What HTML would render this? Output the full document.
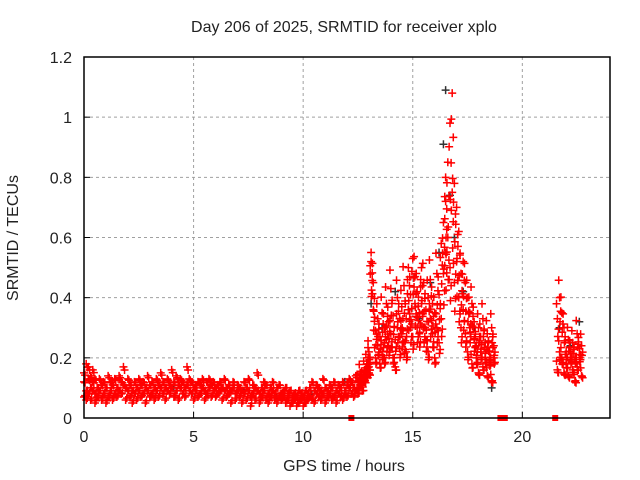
<!DOCTYPE html>
<html><head><meta charset="utf-8">
<style>
body{margin:0;background:#fff;}
svg{display:block;font-family:"Liberation Sans",sans-serif;}
</style></head>
<body>
<svg id="chart" width="640" height="480">
<rect width="640" height="480" fill="#fff"/>
<text x="344" y="32" text-anchor="middle" font-size="16" fill="#222">Day 206 of 2025, SRMTID for receiver xplo</text>
<text x="344" y="471" text-anchor="middle" font-size="16" fill="#222">GPS time / hours</text>
<text transform="translate(18,238) rotate(-90)" text-anchor="middle" font-size="16" fill="#222">SRMTID / TECUs</text>
<g id="grid"></g>
<g id="axes"></g>
<g id="dark"></g>
<g id="red"></g>
<rect x="84" y="57" width="526" height="361" fill="none" stroke="#000" stroke-width="1.5"/>
</svg>
<script>
const xTicks=[0,5,10,15,20];
const yTicks=[0,0.2,0.4,0.6,0.8,1,1.2];
const yTickLabels=["0","0.2","0.4","0.6","0.8","1","1.2"];
const redX=[0,0,0,0.1,0.1,0.1,0.2,0.2,0.2,0.3,0.3,0.3,0.4,0.4,0.4,0.5,0.5,0.5,0.6,0.6,0.7,0.7,0.8,0.8,0.9,0.9,1.0,1.0,1.1,1.1,1.2,1.2,1.3,1.3,1.4,1.4,1.5,1.5,1.6,1.6,1.7,1.7,1.8,1.8,1.9,1.9,2.0,2.0,2.1,2.1,2.2,2.2,2.3,2.3,2.4,2.4,2.5,2.5,2.6,2.6,2.7,2.7,2.8,2.8,2.9,2.9,3.0,3.0,3.1,3.1,3.2,3.2,3.3,3.3,3.4,3.4,3.5,3.5,3.6,3.6,3.7,3.7,3.8,3.8,3.9,3.9,4.0,4.0,4.1,4.1,4.2,4.2,4.3,4.3,4.4,4.4,4.5,4.5,4.6,4.6,4.7,4.7,4.8,4.8,4.9,4.9,5.0,5.0,5.1,5.1,5.2,5.2,5.3,5.3,5.4,5.4,5.5,5.5,5.6,5.6,5.7,5.7,5.8,5.8,5.9,5.9,6.0,6.0,6.1,6.1,6.2,6.2,6.3,6.3,6.4,6.4,6.5,6.5,6.6,6.6,6.7,6.7,6.8,6.8,6.9,6.9,7.0,7.0,7.1,7.1,7.2,7.2,7.3,7.3,7.4,7.4,7.5,7.5,7.6,7.6,7.7,7.7,7.8,7.8,7.9,7.9,8.0,8.0,8.1,8.1,8.2,8.2,8.3,8.3,8.4,8.4,8.5,8.5,8.6,8.6,8.7,8.7,8.8,8.8,8.9,8.9,9.0,9.0,9.1,9.1,9.2,9.2,9.3,9.3,9.4,9.4,9.5,9.5,9.6,9.6,9.7,9.7,9.8,9.8,9.9,9.9,10.0,10.0,10.1,10.1,10.2,10.2,10.3,10.3,10.4,10.4,10.5,10.5,10.6,10.6,10.7,10.7,10.8,10.8,10.9,10.9,11.0,11.0,11.1,11.1,11.2,11.2,11.3,11.3,11.4,11.4,11.5,11.5,11.6,11.6,11.7,11.7,11.8,11.8,11.9,11.9,12.0,12.0,12.1,12.1,12.2,12.2,12.3,12.3,12.4,12.4,12.5,12.5,12.6,12.6,12.7,12.7,12.8,12.8,12.9,12.9,13.0,13.0,13.0,13.0,13.1,13.1,13.2,13.2,13.3,13.3,13.4,13.4,13.5,13.5,13.6,13.6,13.7,13.7,13.8,13.8,13.9,13.9,14.0,14.0,14.1,14.1,14.2,14.2,14.3,14.3,14.4,14.4,14.5,14.5,14.6,14.6,14.7,14.7,14.8,14.8,14.9,14.9,15.0,15.0,15.1,15.1,15.2,15.2,15.3,15.3,15.4,15.4,15.5,15.5,15.6,15.6,15.7,15.7,15.8,15.8,15.9,15.9,16.0,16.0,16.1,16.1,16.2,16.2,16.3,16.3,16.4,16.4,16.5,16.5,16.5,16.6,16.6,16.7,16.7,16.8,16.8,16.9,16.9,17.0,17.0,17.1,17.1,17.2,17.2,17.3,17.3,17.4,17.4,17.5,17.5,17.6,17.6,17.7,17.7,17.8,17.8,17.9,17.9,18.0,18.0,18.1,18.1,18.2,18.2,18.3,18.3,18.4,18.4,18.5,18.5,18.6,18.6,18.7,18.7,21.6,21.6,21.7,21.7,21.8,21.8,21.9,21.9,22.0,22.0,22.1,22.1,22.2,22.2,22.3,22.3,22.4,22.4,22.5,22.5,22.6,22.6,22.7,22.7];
const redY=[0.07,0.12,0.15,0.09,0.18,0.06,0.13,0.08,0.17,0.1,0.14,0.06,0.12,0.09,0.16,0.08,0.13,0.05,0.1,0.07,0.09,0.13,0.06,0.11,0.08,0.12,0.1,0.05,0.14,0.07,0.09,0.12,0.11,0.06,0.08,0.13,0.1,0.07,0.09,0.14,0.12,0.08,0.17,0.11,0.06,0.1,0.09,0.13,0.07,0.11,0.05,0.09,0.08,0.12,0.1,0.06,0.09,0.13,0.07,0.11,0.12,0.08,0.05,0.1,0.09,0.14,0.11,0.07,0.08,0.12,0.1,0.06,0.13,0.09,0.07,0.11,0.1,0.15,0.08,0.12,0.06,0.1,0.09,0.13,0.11,0.08,0.16,0.1,0.12,0.07,0.09,0.14,0.11,0.06,0.1,0.13,0.08,0.12,0.1,0.07,0.17,0.11,0.09,0.13,0.08,0.12,0.1,0.06,0.11,0.09,0.12,0.07,0.08,0.11,0.1,0.13,0.09,0.06,0.12,0.08,0.1,0.13,0.07,0.11,0.09,0.12,0.1,0.07,0.08,0.11,0.12,0.09,0.06,0.1,0.09,0.13,0.07,0.1,0.11,0.08,0.05,0.09,0.1,0.12,0.08,0.06,0.11,0.09,0.07,0.1,0.09,0.05,0.12,0.08,0.06,0.1,0.09,0.13,0.07,0.04,0.11,0.08,0.06,0.1,0.09,0.15,0.05,0.08,0.1,0.07,0.12,0.09,0.06,0.11,0.08,0.05,0.1,0.07,0.09,0.12,0.06,0.08,0.1,0.05,0.07,0.11,0.08,0.06,0.09,0.07,0.05,0.1,0.06,0.08,0.09,0.04,0.07,0.05,0.08,0.06,0.04,0.07,0.09,0.05,0.06,0.08,0.07,0.04,0.05,0.09,0.08,0.06,0.1,0.07,0.06,0.12,0.09,0.05,0.08,0.11,0.07,0.1,0.06,0.09,0.13,0.08,0.05,0.1,0.09,0.07,0.11,0.08,0.06,0.1,0.12,0.07,0.09,0.05,0.08,0.11,0.1,0.07,0.06,0.12,0.09,0.08,0.11,0.07,0.13,0.1,0.08,0.12,0.1,0.07,0.09,0.14,0.12,0.08,0.11,0.15,0.13,0.09,0.16,0.12,0.18,0.14,0.2,0.15,0.17,0.22,0.55,0.52,0.45,0.36,0.29,0.2,0.33,0.24,0.18,0.27,0.35,0.22,0.3,0.2,0.26,0.38,0.32,0.24,0.43,0.28,0.2,0.34,0.26,0.17,0.3,0.4,0.23,0.33,0.37,0.28,0.25,0.44,0.33,0.22,0.5,0.36,0.3,0.41,0.53,0.27,0.38,0.47,0.3,0.42,0.35,0.28,0.5,0.38,0.3,0.45,0.26,0.36,0.4,0.22,0.33,0.46,0.28,0.38,0.2,0.35,0.48,0.3,0.25,0.41,0.58,0.33,0.65,0.48,0.72,0.55,0.8,0.6,0.85,0.5,0.98,1.08,0.75,0.78,0.45,0.7,0.52,0.62,0.4,0.48,0.3,0.52,0.36,0.45,0.28,0.4,0.22,0.35,0.3,0.18,0.38,0.26,0.32,0.2,0.24,0.15,0.3,0.22,0.27,0.17,0.33,0.2,0.25,0.14,0.28,0.19,0.22,0.12,0.3,0.2,0.24,0.16,0.33,0.22,0.4,0.2,0.35,0.15,0.3,0.22,0.18,0.26,0.14,0.2,0.22,0.16,0.25,0.12,0.2,0.28,0.17,0.23,0.21,0.14,0.24,0.19,0.28,0.15,0.22,0.17];
const darkX=[0.3,1.2,2.6,4.1,5.6,7.3,8.8,10.4,11.9,13.1,13.6,14.2,14.8,15.3,15.8,16.2,16.4,16.5,16.7,16.9,17.3,17.8,18.3,18.6,21.7,22.2,22.6];
const darkY=[0.13,0.09,0.11,0.1,0.08,0.09,0.07,0.08,0.12,0.38,0.3,0.42,0.36,0.33,0.45,0.55,0.91,1.09,0.74,0.6,0.42,0.3,0.25,0.1,0.3,0.24,0.32];
const squaresX=[12.2,19.0,19.1,19.2,21.5];
const NS="http://www.w3.org/2000/svg";
const X0=84,X1=610,Y0=418,Y1=57,XMAX=24,YMAX=1.2;
function xs(v){return X0+(X1-X0)*v/XMAX;}
function ys(v){return Y0-(Y0-Y1)*v/YMAX;}
function mk(tag,attrs,parent){const e=document.createElementNS(NS,tag);for(const k in attrs)e.setAttribute(k,attrs[k]);parent.appendChild(e);return e;}
const grid=document.getElementById('grid'),axes=document.getElementById('axes');
xTicks.forEach((t)=>{
  const x=xs(t);
  if(t>0){const g=mk('line',{x1:x,x2:x,y1:Y1,y2:Y0,stroke:'#a0a0a0','stroke-dasharray':'3,3'},grid);
  
  }
  mk('line',{x1:x,x2:x,y1:Y0,y2:Y0-6,stroke:'#000'},axes);
  const l=mk('text',{x:x,y:Y0+24,'text-anchor':'middle','font-size':'16',fill:'#222'},axes);
  l.textContent=t;
  
  
});
yTicks.forEach((t,i)=>{
  const y=ys(t);
  if(t>0&&t<YMAX){const g=mk('line',{x1:X0,x2:X1,y1:y,y2:y,stroke:'#a0a0a0','stroke-dasharray':'3,3'},grid);
  
  }
  mk('line',{x1:X0,x2:X0+6,y1:y,y2:y,stroke:'#000'},axes);
  const l=mk('text',{x:X0-12,y:y+6,'text-anchor':'end','font-size':'16',fill:'#222'},axes);
  l.textContent=yTickLabels[i];
  
  
});
function plus(g,xv,yv,col){
  const x=xs(xv),y=ys(yv);
  const p=mk('path',{d:`M${x-4},${y}H${x+4}M${x},${y-4}V${y+4}`,stroke:col,'stroke-width':'1.5',fill:'none'},g);
  
  
}
const dg=document.getElementById('dark'),rg=document.getElementById('red');
darkX.forEach((x,i)=>plus(dg,x,darkY[i],'#333'));
redX.forEach((x,i)=>{
  plus(rg,x,redY[i],'#ff0000');
  plus(rg,x+0.05,redY[i]*0.85+0.015,'#ff0000');
  if(x>=12.5){
    plus(rg,x-0.04,redY[i]<0.5?redY[i]*1.12+0.01:redY[i]*0.92,'#ff0000');
    plus(rg,x+0.02,redY[i]*0.7+0.04,'#ff0000');
  }
});
squaresX.forEach((x)=>{
  const r=mk('rect',{x:xs(x)-3,y:Y0-3,width:6,height:6,fill:'#ff0000'},rg);
  
  
});
</script>
</body></html>
